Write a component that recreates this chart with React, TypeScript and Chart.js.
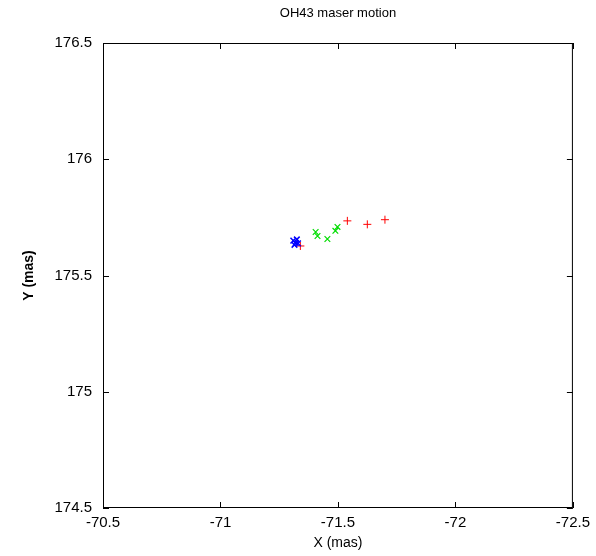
import React, { useEffect, useRef } from "react";
import { Chart, registerables } from "chart.js";

Chart.register(...registerables);

const blueX = [-71.31, -71.32, -71.325, -71.315, -71.33];
const blueY = [175.65, 175.64, 175.655, 175.632, 175.638];
const greenX = [-71.405, -71.413, -71.455, -71.489, -71.498];
const greenY = [175.687, 175.67, 175.657, 175.692, 175.709];
const redX = [-71.34, -71.54, -71.625, -71.7];
const redY = [175.627, 175.735, 175.72, 175.74];

const xTicks = [-70.5, -71, -71.5, -72, -72.5];
const yTicks = [174.5, 175, 175.5, 176, 176.5];
const titleText = "OH43 maser motion";

const FONT = "'Liberation Sans', Arial, sans-serif";

const toPts = (xs: number[], ys: number[]) => xs.map((x, i) => ({ x, y: ys[i] }));

const framePlugin = {
  id: "frame",
  afterDatasetsDraw(chart: any) {
    const { ctx, chartArea: a, scales } = chart;
    ctx.save();
    ctx.strokeStyle = "#000";
    ctx.lineWidth = 1;
    ctx.strokeRect(a.left + 0.5, a.top + 0.5, a.right - a.left - 1, a.bottom - a.top - 1);
    const len = 6;
    ctx.beginPath();
    xTicks.forEach((v) => {
      const px = Math.round(scales.x.getPixelForValue(v)) + 0.5;
      ctx.moveTo(px, a.bottom);
      ctx.lineTo(px, a.bottom - len);
      ctx.moveTo(px, a.top);
      ctx.lineTo(px, a.top + len);
    });
    yTicks.forEach((v) => {
      const py = Math.round(scales.y.getPixelForValue(v)) + 0.5;
      ctx.moveTo(a.left, py);
      ctx.lineTo(a.left + len, py);
      ctx.moveTo(a.right, py);
      ctx.lineTo(a.right - len, py);
    });
    ctx.stroke();
    ctx.fillStyle = "#000";
    ctx.font = "13px " + FONT;
    ctx.textAlign = "center";
    ctx.textBaseline = "middle";
    ctx.fillText(titleText, (a.left + a.right) / 2, 13);
    ctx.restore();
  },
};

export default function App() {
  const ref = useRef<HTMLCanvasElement | null>(null);
  useEffect(() => {
    document.body.style.margin = "0";
    const chart = new Chart(ref.current!, {
      type: "scatter",
      data: {
        datasets: [
          {
            label: "blue",
            data: toPts(blueX, blueY),
            pointStyle: "crossRot",
            pointRadius: 4,
            borderColor: "#0000ff",
            backgroundColor: "#0000ff",
            borderWidth: 1.5,
          },
          {
            label: "green",
            data: toPts(greenX, greenY),
            pointStyle: "crossRot",
            pointRadius: 4,
            borderColor: "#00dd00",
            backgroundColor: "#00dd00",
            borderWidth: 1.2,
          },
          {
            label: "red",
            data: toPts(redX, redY),
            pointStyle: "cross",
            pointRadius: 4,
            borderColor: "#ff0000",
            backgroundColor: "#ff0000",
            borderWidth: 1,
          },
        ],
      },
      options: {
        responsive: false,
        animation: false,
        layout: { padding: { top: 43, right: 21, left: 0, bottom: 0 } },
        plugins: {
          legend: { display: false },
          tooltip: { enabled: false },
          title: { display: false },
        },
        scales: {
          x: {
            type: "linear",
            reverse: true,
            min: -72.5,
            max: -70.5,
            afterFit: (s: any) => {
              s.height = 48;
            },
            afterBuildTicks: (s: any) => {
              s.ticks = xTicks.map((v) => ({ value: v }));
            },
            grid: { display: false, drawTicks: false },
            border: { display: false },
            ticks: {
              color: "#000",
              padding: 6,
              font: { family: FONT, size: 15 },
              maxRotation: 0,
              autoSkip: false,
              callback: (v: any) => String(v),
            },
            title: {
              display: true,
              text: "X (mas)",
              color: "#000",
              font: { family: FONT, size: 14 },
              padding: { top: 0, bottom: 4 },
            },
          },
          y: {
            type: "linear",
            min: 174.5,
            max: 176.5,
            afterFit: (s: any) => {
              s.width = 103;
            },
            afterBuildTicks: (s: any) => {
              s.ticks = yTicks.map((v) => ({ value: v }));
            },
            grid: { display: false, drawTicks: false },
            border: { display: false },
            ticks: {
              color: "#000",
              padding: 11,
              font: { family: FONT, size: 15 },
              autoSkip: false,
              callback: (v: any) => String(v),
            },
            title: {
              display: true,
              text: "Y (mas)",
              color: "#000",
              font: { family: FONT, size: 14, weight: "bold" },
              padding: { top: 21, bottom: 0 },
            },
          },
        },
      },
      plugins: [framePlugin],
    } as any);
    return () => chart.destroy();
  }, []);
  return (
    <div style={{ width: 596, height: 556, background: "#fff" }}>
      <canvas ref={ref} width={596} height={556} />
    </div>
  );
}
